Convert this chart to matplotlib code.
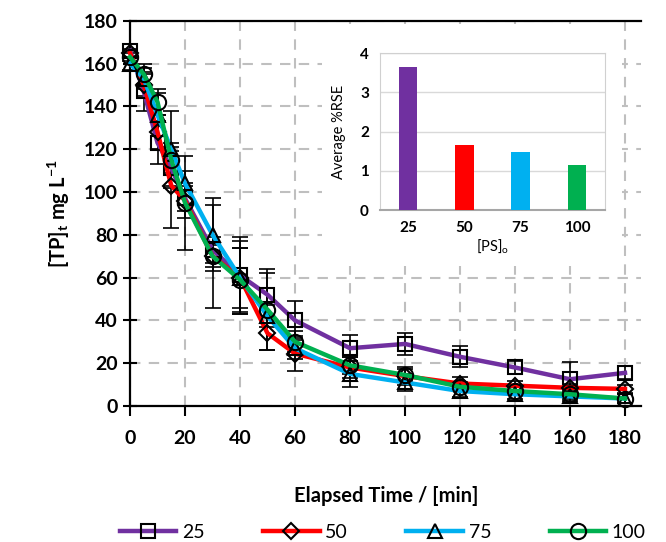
import matplotlib
matplotlib.use('Agg')
import matplotlib.pyplot as plt
from matplotlib.lines import Line2D
import numpy as np

plt.rcParams.update({
    'font.family': 'Lato',
    'mathtext.fontset': 'custom',
    'mathtext.rm': 'Lato',
    'mathtext.bf': 'Lato:bold',
})

# ── Decay of [TP] for four initial PS levels ──
time_min = [0, 5, 10, 15, 20, 30, 40, 50, 60, 80, 100, 120, 140, 160, 180]
tp_25 = [166, 147, 123, 111, 97, 73, 61, 52, 40, 27, 29, 23, 18, 12.5, 15.5]
tp_50 = [165, 150, 128, 103, 96, 70, 60, 34, 24.5, 18, 14, 10.5, 9.5, 8.5, 8]
tp_75 = [160, 153, 136, 120, 104, 80, 60, 42, 27, 15, 11, 7, 5.5, 4.5, 3.5]
tp_100 = [163, 155, 142, 115, 95, 70, 59, 45, 30, 19, 14.5, 9, 7, 5.5, 3.5]

err_25 = [3, 9, 10, 8, 6, 6, 18, 10, 9, 6, 5, 5, 3, 8, 3]
err_50 = [2, 5, 8, 20, 8, 5, 17, 8, 8, 5, 4, 3, 2, 2, 2]
err_75 = [3, 5, 10, 18, 6, 17, 14, 5, 5, 6, 4, 3, 2, 2, 2]
err_100 = [2, 5, 6, 6, 22, 24, 15, 19, 5, 4, 3, 2, 2, 2, 2]

ps_labels = ['25', '50', '75', '100']
avg_rse = [3.65, 1.65, 1.48, 1.15]

COLORS = ['#7030A0', '#FF0000', '#00B0F0', '#00B050']
MARKERS = ['s', 'D', '^', 'o']
MSIZES = [10, 8, 10, 11]

series = [tp_25, tp_50, tp_75, tp_100]
errors = [err_25, err_50, err_75, err_100]

fig = plt.figure(figsize=(6.66, 5.42), dpi=100)
ax = fig.add_axes([0.1952, 0.2509, 0.768, 0.7109])

for y, e in zip(series, errors):
    ax.errorbar(time_min, y, yerr=e, fmt='none', ecolor='black',
                elinewidth=1.2, capsize=6, capthick=1.2, zorder=2, clip_on=False)

for y, c, m, ms in zip(series, COLORS, MARKERS, MSIZES):
    ax.plot(time_min, y, color=c, linewidth=3.2, marker=m, markersize=ms,
            markerfacecolor='none', markeredgecolor='black', markeredgewidth=1.5,
            zorder=3, clip_on=False)

ax.set_xlim(0, 186)
ax.set_ylim(0, 180)
ax.set_xticks(np.arange(0, 181, 20))
ax.set_yticks(np.arange(0, 181, 20))
ax.grid(True, color='#BFBFBF', linestyle=(0, (5, 4)), linewidth=1.5)
ax.set_axisbelow(True)
ax.spines['right'].set_visible(False)
for s in ['left', 'bottom', 'top']:
    ax.spines[s].set_linewidth(1.6)
ax.tick_params(axis='y', direction='inout', length=10, width=1.5, labelsize=14, pad=4)
ax.tick_params(axis='x', direction='out', length=7, width=1.5, labelsize=14, pad=10)
for lbl in ax.get_xticklabels() + ax.get_yticklabels():
    lbl.set_fontweight('bold')

ax.set_xlabel('Elapsed Time / [min]', fontsize=14.5, fontweight='bold', labelpad=28)
ax.set_ylabel(r'[TP]$_\mathbf{t}$ mg L$^\mathbf{-1}$', fontsize=14.5, fontweight='bold', labelpad=8)

# white panel behind the inset
bg = fig.add_axes([322 / 666, 1 - 266 / 542, 300 / 666, 242 / 542])
bg.set_facecolor('white')
bg.set_xticks([])
bg.set_yticks([])
for s in bg.spines.values():
    s.set_visible(False)

# inset: average %RSE per PS level
ins = fig.add_axes([380 / 666, 1 - 210 / 542, 225 / 666, 157 / 542])
x = np.arange(len(ps_labels))
ins.bar(x, avg_rse, width=0.33, color=COLORS, zorder=3)
ins.set_xlim(-0.5, 3.5)
ins.set_ylim(0, 4)
ins.set_yticks([0, 1, 2, 3, 4])
ins.set_xticks(x)
ins.set_xticklabels(ps_labels)
ins.grid(True, axis='y', color='#D9D9D9', linewidth=1)
for s in ins.spines.values():
    s.set_color('#D0D0D0')
ins.spines['bottom'].set_color('#A6A6A6')
ins.spines['bottom'].set_linewidth(1.5)
ins.tick_params(length=0, labelsize=11, pad=8)
for lbl in ins.get_xticklabels() + ins.get_yticklabels():
    lbl.set_fontweight('bold')
ins.set_ylabel('Average %RSE', fontsize=10.5, labelpad=10)
ins.set_xlabel(r'[PS]$_\mathrm{o}$', fontsize=10.5, labelpad=2)

handles = [Line2D([], [], color=c, linewidth=3.2, marker=m, markersize=ms,
                  markerfacecolor='none', markeredgecolor='black', markeredgewidth=1.5)
           for c, m, ms in zip(COLORS, MARKERS, MSIZES)]
fig.legend(handles, ps_labels, loc='lower center', bbox_to_anchor=(0.575, -0.03),
           ncol=4, frameon=False, fontsize=14, handlelength=2.9,
           columnspacing=3.0, handletextpad=0.3)

plt.savefig('out.png', dpi=100)
plt.close()
